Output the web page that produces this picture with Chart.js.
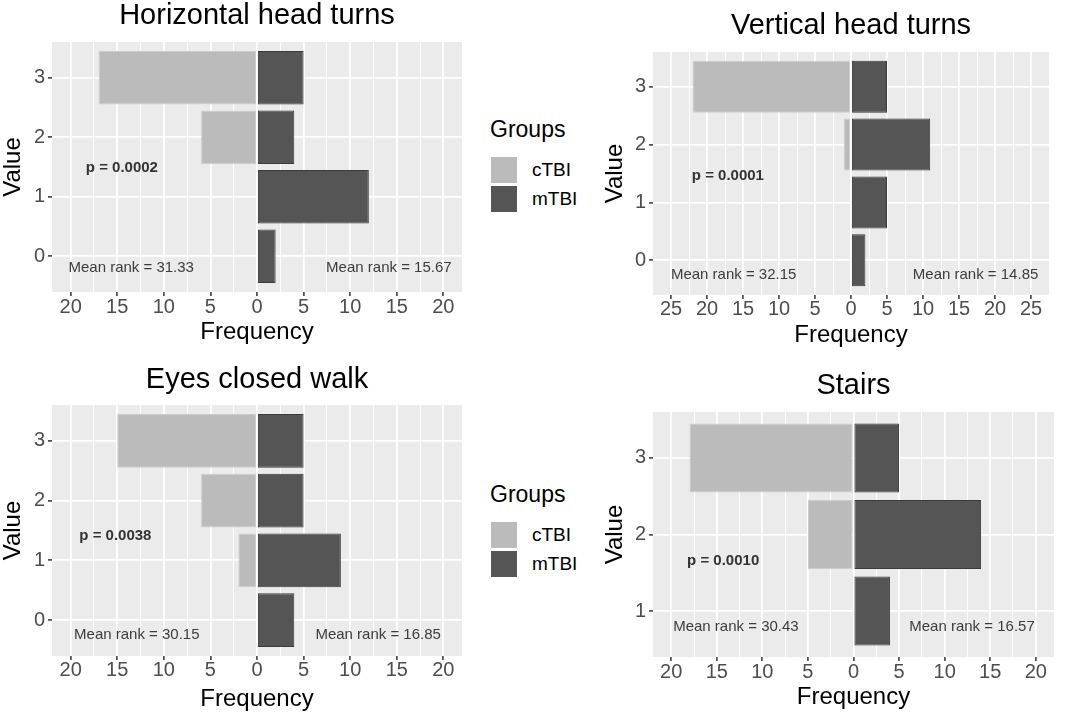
<!DOCTYPE html>
<html>
<head>
<meta charset="utf-8">
<script src="https://cdn.jsdelivr.net/npm/chart.js@4.4.0/dist/chart.umd.min.js"></script>
<style>
  body { margin: 0; background: #fff; font-family: "Liberation Sans", Arial, sans-serif; }
  .panel { position: absolute; }
  .lg { position: absolute; white-space: nowrap; color: #000; }
  .key { position: absolute; width: 26px; height: 26px; }
</style>
</head>
<body>
<div class="panel" style="left:0;top:0"><canvas id="c1" width="470" height="350"></canvas></div>
<div class="panel" style="left:590px;top:0"><canvas id="c2" width="494" height="350"></canvas></div>
<div class="panel" style="left:0;top:360px"><canvas id="c3" width="470" height="355"></canvas></div>
<div class="panel" style="left:590px;top:360px"><canvas id="c4" width="494" height="355"></canvas></div>
<div id="legends"></div>
<script>
// ---- data ----
const titles = ['Horizontal head turns', 'Vertical head turns', 'Eyes closed walk', 'Stairs'];
const groupLabels = ['cTBI', 'mTBI'];
const groupColors = ['#BBBBBB', '#555555'];

const hhtValues = [0, 1, 2, 3];
const hhtCtbi = [0, 0, 6, 17];
const hhtMtbi = [2, 12, 4, 5];

const vhtValues = [0, 1, 2, 3];
const vhtCtbi = [0, 0, 1, 22];
const vhtMtbi = [2, 5, 11, 5];

const ecwValues = [0, 1, 2, 3];
const ecwCtbi = [0, 2, 6, 15];
const ecwMtbi = [4, 9, 5, 5];

const stValues = [1, 2, 3];
const stCtbi = [0, 5, 18];
const stMtbi = [4, 14, 5];

const pValues = ['0.0002', '0.0001', '0.0038', '0.0010'];
const meanRankCtbi = ['31.33', '32.15', '30.15', '30.43'];
const meanRankMtbi = ['15.67', '14.85', '16.85', '16.57'];
const tickMax = [20, 25, 20, 20];

const FONT = '"Liberation Sans", Arial, sans-serif';
Chart.defaults.font.family = FONT;
Chart.defaults.color = '#4D4D4D';

// grey panel background like ggplot
const panelBg = {
  id: 'panelBg',
  beforeDraw(chart) {
    const a = chart.chartArea, ctx = chart.ctx;
    ctx.save();
    ctx.fillStyle = '#EBEBEB';
    ctx.fillRect(a.left, a.top, a.right - a.left, a.bottom - a.top);
    ctx.restore();
  }
};

// panel title centred over the plot area + text labels placed in data coordinates
const notes = {
  id: 'notes',
  afterDatasetsDraw(chart, args, opts) {
    const ctx = chart.ctx, xs = chart.scales.x, ys = chart.scales.y, a = chart.chartArea;
    ctx.save();
    ctx.textAlign = 'center';
    ctx.textBaseline = 'middle';
    ctx.fillStyle = '#000';
    ctx.font = '29px ' + FONT;
    ctx.fillText(opts.title, (a.left + a.right) / 2, opts.titleY);
    opts.items.forEach(n => {
      ctx.font = (n.bold ? 'bold ' : '') + '15px ' + FONT;
      ctx.fillStyle = n.bold ? '#333333' : '#3c3c3c';
      ctx.fillText(n.text, xs.getPixelForValue(n.x), ys.getPixelForValue(n.y));
    });
    ctx.restore();
  }
};

function makePanel(id, i, values, ctbi, mtbi, g) {
  const xTicks = [];
  for (let v = -tickMax[i]; v <= tickMax[i]; v += 2.5) xTicks.push(v);
  const isMajor = c => c.tick && Math.abs(c.tick.value % 5) < 1e-6;

  new Chart(document.getElementById(id), {
    type: 'bar',
    data: {
      datasets: [
        {
          label: groupLabels[0],
          data: values.map((v, k) => ({ y: v, x: -ctbi[k] })),
          backgroundColor: groupColors[0],
          borderColor: '#cdcdcd'
        },
        {
          label: groupLabels[1],
          data: values.map((v, k) => ({ y: v, x: mtbi[k] })),
          backgroundColor: groupColors[1],
          borderColor: '#3a3a3a'
        }
      ]
    },
    options: {
      indexAxis: 'y',
      responsive: false,
      animation: false,
      categoryPercentage: 1,
      barPercentage: 0.9,
      borderWidth: c => (c.raw && c.raw.x === 0 ? 0 : 1),
      borderSkipped: false,
      layout: { padding: { left: 0, right: g.w - g.r, top: g.t, bottom: 0 } },
      plugins: {
        legend: { display: false },
        tooltip: { enabled: false },
        title: { display: false },
        notes: {
          title: titles[i],
          titleY: g.tc,
          items: [
            { text: 'p = ' + pValues[i], x: g.p[0], y: g.p[1], bold: true },
            { text: 'Mean rank = ' + meanRankCtbi[i], x: g.ml[0], y: g.ml[1] },
            { text: 'Mean rank = ' + meanRankMtbi[i], x: g.mr[0], y: g.mr[1] }
          ]
        }
      },
      scales: {
        x: {
          type: 'linear',
          stacked: true,
          min: -g.xlim,
          max: g.xlim,
          afterBuildTicks: s => { s.ticks = xTicks.map(v => ({ value: v })); },
          afterFit: s => { s.height = g.h - g.b; },
          border: { display: false },
          grid: {
            color: '#FFFFFF',
            lineWidth: c => (isMajor(c) ? 1.8 : 0.9),
            tickColor: c => (isMajor(c) ? '#333333' : 'rgba(0,0,0,0)'),
            tickLength: 4,
            tickWidth: 1.5
          },
          ticks: {
            autoSkip: false,
            maxRotation: 0,
            padding: g.xtp,
            color: '#4D4D4D',
            font: { size: 20, lineHeight: 1 },
            callback: v => (Math.abs(v % 5) < 1e-6 ? String(Math.abs(v)) : '')
          },
          title: {
            display: true,
            text: 'Frequency',
            color: '#000',
            font: { size: 24, lineHeight: 1 },
            padding: { top: 0, bottom: g.xttl }
          }
        },
        y: {
          type: 'linear',
          stacked: true,
          offset: false,
          min: values[0] - 0.6,
          max: values[values.length - 1] + 0.6,
          afterBuildTicks: s => { s.ticks = values.map(v => ({ value: v })); },
          afterFit: s => { s.width = g.l; },
          border: { display: false },
          grid: {
            offset: false,
            color: '#FFFFFF',
            lineWidth: 1.8,
            tickColor: '#333333',
            tickLength: 4,
            tickWidth: 1.5
          },
          ticks: {
            padding: 3,
            color: '#4D4D4D',
            font: { size: 20, lineHeight: 1 },
            callback: v => String(v)
          },
          title: {
            display: true,
            text: 'Value',
            color: '#000',
            font: { size: 24, lineHeight: 1 },
            padding: { top: g.yttl, bottom: 0 }
          }
        }
      }
    },
    plugins: [panelBg, notes]
  });
}

makePanel('c1', 0, hhtValues, hhtCtbi, hhtMtbi,
  { w: 470, h: 350, l: 52, r: 462, t: 42, b: 292, tc: 15.5, xlim: 22, xtp: 1.5, xttl: 5.5, yttl: 1,
    p: [-14.5, 1.48], ml: [-13.5, -0.2], mr: [14.15, -0.2] });
makePanel('c2', 1, vhtValues, vhtCtbi, vhtMtbi,
  { w: 494, h: 350, l: 63, r: 459, t: 52, b: 295, tc: 26, xlim: 27.5, xtp: 0.5, xttl: 2.5, yttl: 13,
    p: [-17.1, 1.46], ml: [-16.3, -0.25], mr: [17.3, -0.25] });
makePanel('c3', 2, ecwValues, ecwCtbi, ecwMtbi,
  { w: 470, h: 355, l: 52, r: 462, t: 45, b: 296, tc: 19.5, xlim: 22, xtp: 0.5, xttl: 3.5, yttl: 1.5,
    p: [-15.2, 1.41], ml: [-12.9, -0.25], mr: [13.0, -0.25] });
makePanel('c4', 3, stValues, stCtbi, stMtbi,
  { w: 494, h: 355, l: 63, r: 464, t: 52, b: 297, tc: 25.5, xlim: 22, xtp: 1.5, xttl: 5.5, yttl: 13,
    p: [-14.3, 1.65], ml: [-12.9, 0.8], mr: [13.0, 0.8] });

// two "Groups" legends between the panels
const legends = document.getElementById('legends');
[0, 365].forEach(dy => {
  let html = '<div class="lg" style="left:490px;top:' + (118 + dy) + 'px;font-size:23px;line-height:23px">Groups</div>';
  groupLabels.forEach((lab, k) => {
    html += '<div class="key" style="left:491px;top:' + (157 + dy + k * 29) + 'px;background:' + groupColors[k] + '"></div>';
    html += '<div class="lg" style="left:532px;top:' + (160 + dy + k * 29) + 'px;font-size:19px;line-height:19px">' + lab + '</div>';
  });
  legends.innerHTML += html;
});
</script>
</body>
</html>
